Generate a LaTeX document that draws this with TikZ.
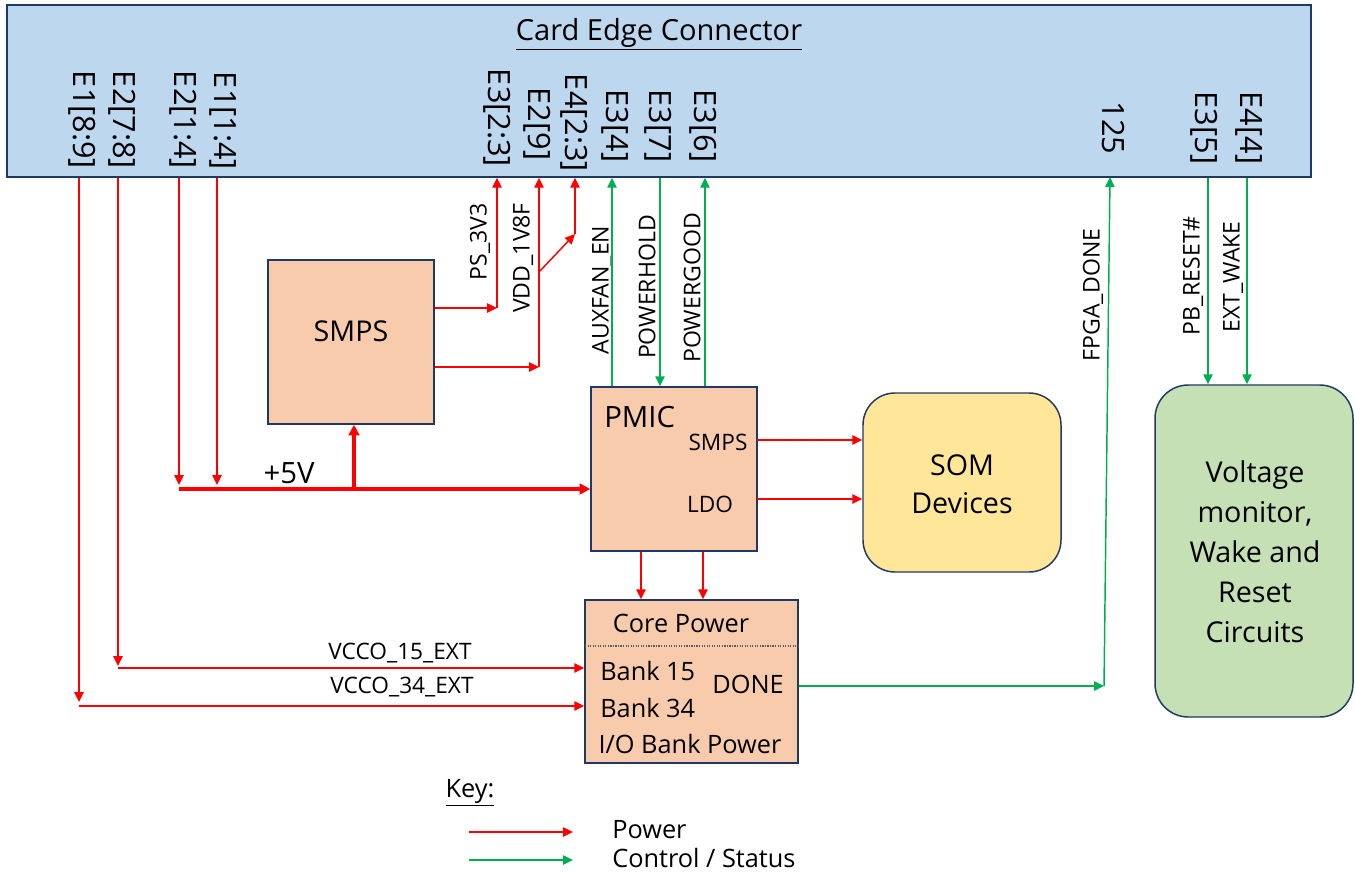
\documentclass[tikz,border=0pt]{standalone}
\usepackage{fontspec}
\setmainfont{Open Sans}
\usetikzlibrary{arrows.meta,fit,calc}
\definecolor{cblue}{HTML}{BDD7EE}
\definecolor{corange}{HTML}{F8CBAD}
\definecolor{cyellow}{HTML}{FFE699}
\definecolor{cgreenbox}{HTML}{C5E0B4}
\definecolor{cnavy}{HTML}{203864}
\definecolor{cred}{HTML}{FF0000}
\definecolor{cgreen}{HTML}{00B050}
\begin{document}
\begin{tikzpicture}[x=0.75pt,y=-0.75pt,
  blk/.style={draw=cnavy,line width=1.1pt,inner sep=0pt},
  pw/.style={draw=cred,line width=1.1pt},
  pwa/.style={pw,-{Triangle[length=7.5pt,width=7pt]}},
  ctl/.style={draw=cgreen,line width=1.1pt},
  ctla/.style={ctl,-{Triangle[length=7.5pt,width=7pt]}},
  busa/.style={draw=cred,line width=2.4pt,-{Triangle[length=8pt,width=8pt]}},
  pin/.style={rotate=-90,font=\fontsize{23}{27}\selectfont,inner sep=0pt},
  sig/.style={rotate=90,font=\fontsize{17.3}{20}\selectfont,inner sep=0pt},
  txl/.style={font=\fontsize{17}{20}\selectfont,inner sep=0pt},
  txm/.style={font=\fontsize{19}{23}\selectfont,inner sep=0pt},
  txb/.style={font=\fontsize{21.5}{28.5}\selectfont,inner sep=0pt,align=center},
]
\useasboundingbox (0,0) rectangle (1355,874);

% ---- blocks
\node[blk,fill=cblue,fit={(7,5)(1311,177)}] (cec) {};
\node[font=\fontsize{21.8}{26}\selectfont,inner sep=0pt] (title) at (659,34) {\underline{Card Edge Connector}};

\node[blk,fill=corange,fit={(268,260)(434,424)},font=\fontsize{21.5}{26}\selectfont] (smps) {SMPS};
\node[blk,fill=corange,fit={(591,387)(757,551)}] (pmic) {};
\node[blk,fill=cyellow,rounded corners=24pt,fit={(863,393)(1061,572)}] (som) {};
\node[txb] (somtxt) at (962,484) {SOM\\Devices};
\node[blk,fill=cgreenbox,rounded corners=25pt,fit={(1155,385)(1353,717)}] (vm) {};
\node[txb,font=\fontsize{21.5}{30}\selectfont] (vmtxt) at (1255,552) {Voltage\\monitor,\\Wake and\\Reset\\Circuits};
\node[blk,fill=corange,fit={(585,600)(798,763)}] (cp) {};

% ---- PMIC inner texts
\node[font=\fontsize{22}{26}\selectfont,inner sep=0pt,anchor=west] (pmictxt) at (604,417) {PMIC};
\node[txl] (pmsmps) at (718,442) {SMPS};
\node[txl] (pmldo) at (710,504) {LDO};

% ---- Core power inner texts
\coordinate (dl) at (585,646);
\draw[densely dotted,draw=black!65,line width=0.9pt] (dl) -- (cp.east |- dl);
\node[txm] (cptxt) at (681,623) {Core Power};
\node[txm,anchor=west] (b15) at (600,671) {Bank 15};
\node[txm,anchor=west] (b34) at (600,708) {Bank 34};
\node[txm] (iob) at (690,744) {I/O Bank Power};
\node[txm] (done) at (748,684) {DONE};

% ---- pin labels
\node[pin] (pE18) at (82,120) {E1[8:9]};
\node[pin] (pE27) at (122,120) {E2[7:8]};
\node[pin] (pE21) at (183,120) {E2[1:4]};
\node[pin] (pE11) at (223,121) {E1[1:4]};
\node[pin] (pE32) at (497,118) {E3[2:3]};
\node[pin] (pE29) at (537,124) {E2[9]};
\node[pin] (pE42) at (574,123) {E4[2:3]};
\node[pin] (pE34) at (615,126) {E3[4]};
\node[pin] (pE37) at (658,126) {E3[7]};
\node[pin] (pE36) at (703,126) {E3[6]};
\node[pin] (p125) at (1113,128) {125};
\node[pin] (pE35) at (1204,128) {E3[5]};
\node[pin] (pE44) at (1249,128) {E4[4]};

% ---- signal labels
\node[sig] (lps) at (480,242) {PS\_3V3};
\node[sig] (lvdd) at (523,258) {VDD\_1V8F};
\node[sig] (laux) at (602,290) {AUXFAN\_EN};
\node[sig] (lph) at (647,287) {POWERHOLD};
\node[sig] (lpg) at (692,288) {POWERGOOD};
\node[sig] (lfd) at (1093,295) {FPGA\_DONE};
\node[sig] (lpb) at (1193,276) {PB\_RESET\#};
\node[sig] (lew) at (1233,277) {EXT\_WAKE};
\node[txl] (lv15) at (400,653) {VCCO\_15\_EXT};
\node[txl] (lv34) at (402,687) {VCCO\_34\_EXT};
\node[font=\fontsize{22}{26}\selectfont,inner sep=0pt] (l5v) at (289,473) {+5V};

% ---- VCCO feeds
\coordinate (c34) at (79,702);
\coordinate (c34h) at (79,706);
\coordinate (c15) at (118,666);
\coordinate (c15h) at (118,668);
\draw[pwa] (c34 |- cec.south) -- (c34);
\draw[pwa] (c34h) -- (cp.west |- c34h);
\draw[pwa] (c15 |- cec.south) -- (c15);
\draw[pwa] (c15h) -- (cp.west |- c15h);

% ---- +5V bus
\coordinate (v1) at (179,485);
\coordinate (v2) at (217,485);
\coordinate (b0) at (179,489);
\coordinate (br) at (354,489);
\draw[pwa] (v1 |- cec.south) -- (v1);
\draw[pwa] (v2 |- cec.south) -- (v2);
\draw[busa] (b0) -- (pmic.west |- b0);
\draw[busa] (br) -- (smps.south -| br);

% ---- SMPS outputs
\coordinate (ps) at (497,308);
\coordinate (vd) at (539,367);
\coordinate (vdb) at (539,272);
\coordinate (e4) at (575,234);
\draw[pwa] (smps.east |- ps) -- (ps);
\draw[pwa] (ps) -- (ps |- cec.south);
\draw[pwa] (smps.east |- vd) -- (vd);
\draw[pwa] (vd) -- (vd |- cec.south);
\draw[pwa] (vdb) -- (e4);
\draw[pwa] (e4) -- (e4 |- cec.south);

% ---- PMIC control
\coordinate (gA) at (612,0);
\coordinate (gH) at (660,0);
\coordinate (gG) at (705,0);
\draw[ctla] (pmic.north -| gA) -- (cec.south -| gA);
\draw[ctla] (cec.south -| gH) -- (pmic.north -| gH);
\draw[ctla] (pmic.north -| gG) -- (cec.south -| gG);

% ---- PMIC to SOM and Core
\coordinate (s1) at (757,440);
\coordinate (s2) at (757,499);
\draw[pwa] (s1) -- (som.west |- s1);
\draw[pwa] (s2) -- (som.west |- s2);
\coordinate (pc1) at (641,0);
\coordinate (pc2) at (703,0);
\draw[pwa] (pmic.south -| pc1) -- (cp.north -| pc1);
\draw[pwa] (pmic.south -| pc2) -- (cp.north -| pc2);

% ---- DONE
\coordinate (dn) at (1104,686);
\coordinate (dtop) at (1110,177);
\draw[ctla] (cp.east |- dn) -- (dn);
\draw[ctla] (dn) -- (dtop);

% ---- reset / wake
\coordinate (rs) at (1208,0);
\coordinate (wk) at (1247,0);
\draw[ctla] (cec.south -| rs) -- (vm.north -| rs);
\draw[ctla] (cec.south -| wk) -- (vm.north -| wk);

% ---- key
\node[txm] (key) at (470,793) {\underline{Key:}};
\coordinate (k1s) at (469,832);
\coordinate (k1e) at (573,832);
\coordinate (k2s) at (469,860);
\coordinate (k2e) at (573,860);
\draw[pwa] (k1s) -- (k1e);
\draw[ctla] (k2s) -- (k2e);
\node[txm,anchor=west] (kpw) at (612,830) {Power};
\node[txm,anchor=west] (kcs) at (612,858) {Control / Status};
\end{tikzpicture}
\end{document}
